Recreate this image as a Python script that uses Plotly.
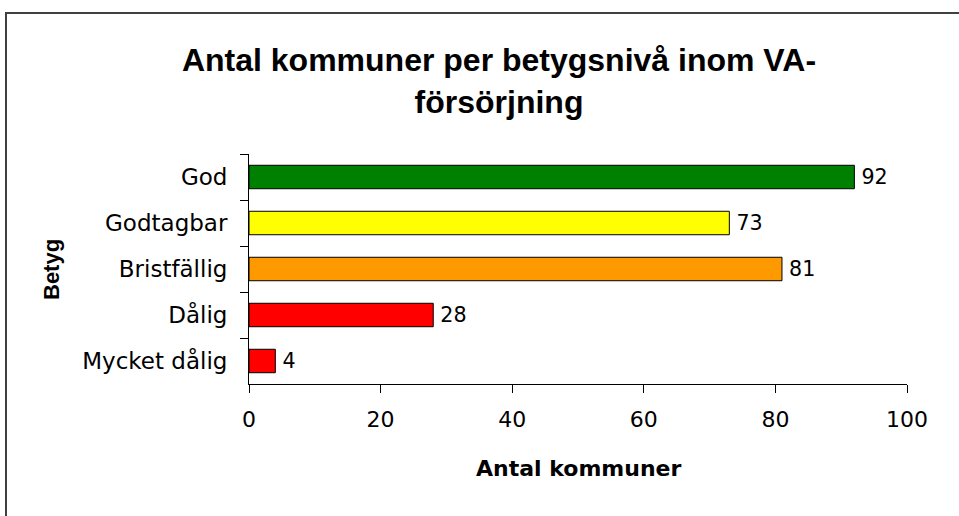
import plotly.graph_objects as go

categories = ["God", "Godtagbar", "Bristfällig", "Dålig", "Mycket dålig"]
values = [92, 73, 81, 28, 4]
bar_colors = ["#008000", "#FFFF00", "#FF9900", "#FF0000", "#FF0000"]
x_ticks = [0, 20, 40, 60, 80, 100]

title_text = "Antal kommuner per betygsnivå inom VA-<br>försörjning"
x_title = "Antal kommuner"
y_title = "Betyg"

fig = go.Figure()
fig.add_trace(go.Bar(
    x=values,
    y=categories,
    orientation="h",
    marker=dict(color=bar_colors, line=dict(color="#000000", width=1)),
    text=["\u2009" + str(v) for v in values],
    textposition="outside",
    textfont=dict(family="DejaVu Sans", size=22, color="#000000"),
    cliponaxis=False,
    hoverinfo="skip",
))

fig.update_layout(
    width=959,
    height=516,
    margin=dict(l=249, r=52, t=154, b=132),
    paper_bgcolor="white",
    plot_bgcolor="white",
    showlegend=False,
    bargap=0.49,
    title=dict(
        text="<b>" + title_text + "</b>",
        x=499 / 959,
        xanchor="center",
        xref="container",
        y=1 - 71 / 516,
        yanchor="top",
        yref="container",
        font=dict(family="Liberation Sans, Arial", size=32, color="#000000"),
    ),
    xaxis=dict(
        range=[0, 100],
        tickvals=x_ticks,
        ticks="outside",
        ticklen=8,
        tickcolor="#000000",
        showline=True,
        linecolor="#000000",
        linewidth=1,
        showgrid=False,
        zeroline=False,
        tickfont=dict(family="DejaVu Sans", size=22, color="#000000"),
        ticklabelstandoff=8,
    ),
    yaxis=dict(
        type="category",
        autorange="reversed",
        ticks="outside",
        tickson="boundaries",
        ticklen=8,
        tickcolor="#000000",
        showline=True,
        linecolor="#000000",
        linewidth=1,
        showgrid=False,
        zeroline=False,
        tickfont=dict(family="DejaVu Sans", size=23, color="#000000"),
        ticklabelstandoff=16,
    ),
    annotations=[
        dict(
            text="<b>" + x_title + "</b>",
            xref="paper", yref="paper",
            x=0.5, y=(384 - 469) / 230,
            xanchor="center", yanchor="middle",
            showarrow=False,
            font=dict(family="DejaVu Sans", size=22, color="#000000"),
        ),
        dict(
            text="<b>" + y_title + "</b>",
            xref="paper", yref="paper",
            x=(51 - 249) / 658, y=(384 - 270) / 230,
            xanchor="center", yanchor="middle",
            textangle=-90,
            showarrow=False,
            font=dict(family="Liberation Sans, Arial", size=22, color="#000000"),
        ),
    ],
    shapes=[
        dict(
            type="rect",
            xref="paper", yref="paper",
            x0=(6 - 249) / 658, x1=1.2,
            y0=-0.8, y1=(384 - 13) / 230,
            line=dict(color="#404040", width=2),
            fillcolor="rgba(0,0,0,0)",
            layer="below",
        )
    ],
)

fig.write_html(
    "out.html",
    config={"displayModeBar": False},
    post_script="document.body.style.margin='0px';document.body.style.overflow='hidden';",
)
